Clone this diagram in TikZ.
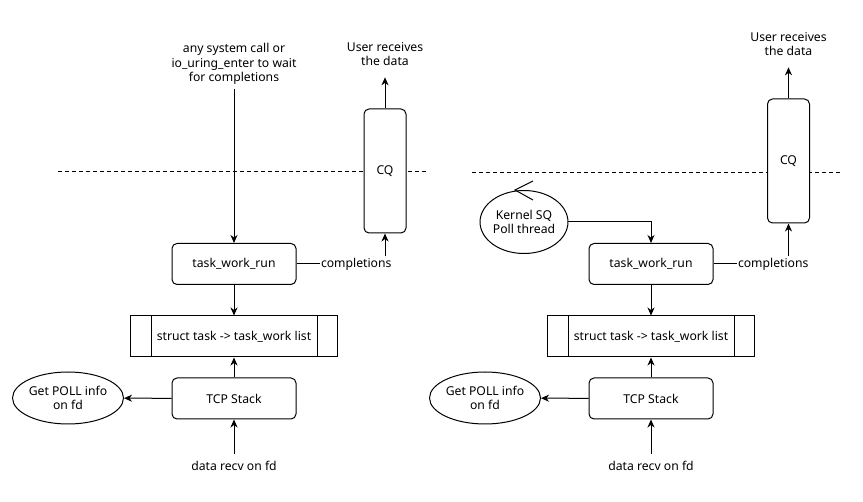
\documentclass[tikz,border=0pt]{standalone}
\usepackage{fontspec}
\setmainfont{Noto Sans}
\usetikzlibrary{arrows.meta, shapes.geometric}

\tikzset{
  box/.style={draw, rounded corners=5pt, fill=white, minimum width=124pt, minimum height=41pt},
  listbox/.style={draw, fill=white, minimum width=207pt, minimum height=41pt},
  queue/.style={draw, rounded corners=5pt, fill=white, minimum width=42pt, minimum height=124pt},
  oval/.style={draw, ellipse, fill=white, inner sep=0pt, align=center},
  txt/.style={align=center, inner sep=1pt},
  flow/.style={-{Stealth[length=8pt,width=7pt,inset=2.5pt]}},
}

\begin{document}
\begin{tikzpicture}[x=1pt, y=-1pt, line width=1pt, font=\fontsize{12.2}{14.5}\selectfont]
	\useasboundingbox (0,0) rectangle (863,502);
	% user / kernel boundary
	\draw[dash pattern=on 4pt off 3pt] (58,172) -- (428,172);
	\draw[dash pattern=on 4pt off 3pt] (472,173) -- (842,173);
	% parts that both pictures share
	\foreach \s/\dx/\cqx/\cqy in {L/0/385/171, R/417/788.5/161}
	{
		\node[box] (run\s) at (234+\dx,264) {task\_work\_run};
		\node[listbox] (list\s) at (234+\dx,336.5) {struct task -> task\_work list};
		\draw ([xshift=21pt]list\s.north west) -- ([xshift=21pt]list\s.south west);
		\draw ([xshift=-21pt]list\s.north east) -- ([xshift=-21pt]list\s.south east);
		\node[box] (tcp\s) at (234+\dx,398.5) {TCP Stack};
		\node[oval, minimum width=104pt, minimum height=52pt] (poll\s) at (68+\dx,398) {Get POLL info\\on fd};
		\node[txt] (recv\s) at (234+\dx,466) {data recv on fd};
		\node[queue] (cq\s) at (\cqx,\cqy) {CQ};
		\node[txt] (user\s) at (\cqx,\cqy-117) {User receives\\the data};
		\node[txt, anchor=west] (comp\s) at ([xshift=23pt]run\s.east) {completions};
		% arrows
		\draw[flow] (run\s) -- (list\s);
		\draw[flow] (tcp\s) -- (list\s);
		\draw[flow] (tcp\s) -- (poll\s);
		\draw[flow, shorten <=6pt] (recv\s) -- (tcp\s);
		\draw[flow, shorten >=10pt] (cq\s) -- (user\s);
		\draw (run\s) -- (comp\s);
		\draw[flow] (comp\s.north -| cq\s.south) -- (cq\s);
	}
	% left: waiting in a system call
	\node[txt] (sysL) at (234,64) {any system call or\\io\_uring\_enter to wait\\for completions};
	\draw[flow, shorten <=3pt] (sysL) -- (runL);
	% right: SQ poll thread
	\node[oval, minimum width=72pt, minimum height=63pt] (sqR) at (524,222) {Kernel SQ\\Poll thread};
	\draw ([shift={(9,-9)}]sqR.north) -- ([xshift=-9pt]sqR.north) -- ([shift={(9,10)}]sqR.north);
	\draw[flow] (sqR.east) -| (runR.north);
\end{tikzpicture}
\end{document}
